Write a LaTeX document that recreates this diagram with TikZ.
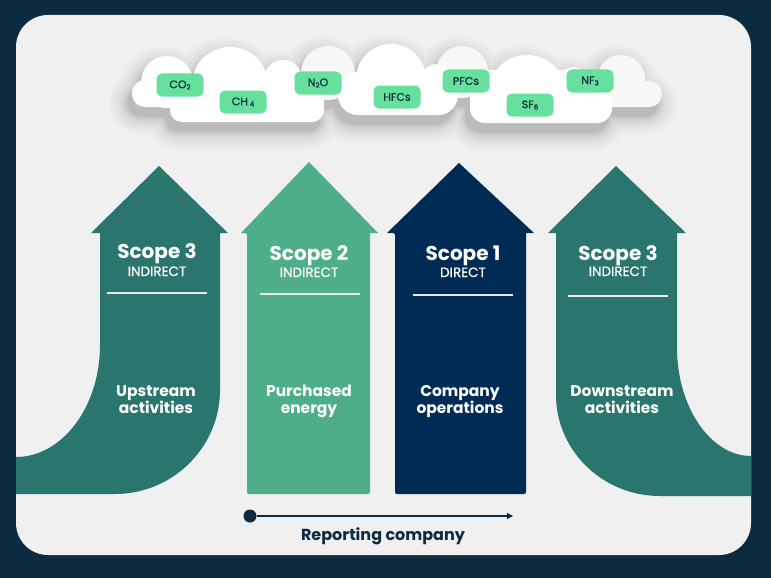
\documentclass[tikz,border=0pt]{standalone}
\usepackage{fontspec}
\setmainfont{Poppins}
\newfontfamily\popmed{Poppins}[FakeBold=0.5]
\usetikzlibrary{arrows.meta}
\definecolor{bgdark}{HTML}{0C2A40}
\definecolor{panel}{HTML}{F0F0F0}
\definecolor{tealc}{HTML}{2B756F}
\definecolor{greenc}{HTML}{4DAE89}
\definecolor{navyc}{HTML}{002B54}
\definecolor{chipgreen}{HTML}{66E09D}
\definecolor{ink}{HTML}{0D2B3E}
\definecolor{cloudback}{HTML}{F7F7F7}
\newcommand\chipsub[1]{\raisebox{-1.3pt}{\fontsize{7}{7}\selectfont #1}}
\newcommand\cloudback[1]{%
  \path[#1] (328,73) circle[radius=27pt];
  \path[#1] (462,72) circle[radius=26pt];
  \path[#1] (621,79) circle[radius=24pt];
  \path[#1,rounded corners=13pt] (597,81) rectangle (662,107);
}
\newcommand\cloudfront[1]{%
  \path[#1,rounded corners=13pt] (132,80) rectangle (180,107);
  \path[#1] (167,82) circle[radius=26pt];
  \path[#1] (230,84) ellipse[x radius=38pt,y radius=37pt];
  \path[#1] (283,79) circle[radius=19pt];
  \path[#1,rounded corners=12pt] (170,78) rectangle (324,122);
  \path[#1,rounded corners=20pt] (338,72) rectangle (458,115);
  \path[#1] (391,79) circle[radius=35pt];
  \path[#1] (437,80) circle[radius=16pt];
  \path[#1,rounded corners=15pt] (470,70) rectangle (612,123);
  \path[#1] (527,87) ellipse[x radius=36pt,y radius=32pt];
  \path[#1] (573,80) circle[radius=13pt];
}
\tikzset{
  every node/.style={inner sep=0pt, outer sep=0pt},
  head/.style={text=white, font=\bfseries\fontsize{20}{20}\selectfont, anchor=base},
  kind/.style={text=white, font=\popmed\fontsize{13.5}{13.5}\selectfont, anchor=base},
  body/.style={text=white, font=\bfseries\fontsize{15.5}{15.5}\selectfont, anchor=base},
  chip/.style={fill=chipgreen, rounded corners=6pt, minimum width=47pt, minimum height=23pt, text=ink, font=\popmed\fontsize{11}{11}\selectfont},
  divider/.style={draw=white!92!black, line width=1.3pt},
}
\begin{document}
\begin{tikzpicture}[x=1pt,y=-1pt]
\useasboundingbox (0,0) rectangle (771,578);
\fill[bgdark] (0,0) rectangle (771,578);
\fill[panel, rounded corners=32pt] (16,15) rectangle (751,555);
% cloud shadow
\foreach \w/\p in {36/2,30/4,24/6,19/8,14/10,10/13,6/16,3/19,1/22}{
  \cloudback{fill=black!\p!panel, draw=black!\p!panel, line width=\w pt, line join=round, shift={(-4,9)}}
  \cloudfront{fill=black!\p!panel, draw=black!\p!panel, line width=\w pt, line join=round, shift={(-4,9)}}
}
% clouds
\cloudback{fill=cloudback}
\cloudfront{fill=white}
% gas chips
\node[chip] (co2) at (180,85) {CO\chipsub{2}};
\node[chip] (ch4) at (243,102) {CH\,\chipsub{4}};
\node[chip] (n2o) at (318,83) {N\chipsub{2}O};
\node[chip] (hfcs) at (397,97) {HFCs};
\node[chip] (pfcs) at (466,81) {PFCs};
\node[chip] (sf6) at (530,105) {SF\chipsub{6}};
\node[chip] (nf3) at (590,81) {NF\chipsub{3}};
% arrows
\fill[tealc] (16,457) .. controls (62,457) and (100,407) .. (100,345) -- (100,233) -- (91,233) -- (159,166) -- (228,233) -- (220,233) -- (220,390) .. controls (220,447) and (173,494) .. (115,494) -- (16,494) -- cycle;
\fill[greenc, rounded corners=2pt] (247,494) -- (247,233) [sharp corners] -- (241,233) -- (309,162) -- (378,233) -- (370,233) [rounded corners=2pt] -- (370,494) -- cycle;
\fill[navyc, rounded corners=2pt] (395,494) -- (395,233) [sharp corners] -- (387,233) -- (459,163) -- (534,233) -- (526,233) [rounded corners=2pt] -- (526,494) -- cycle;
\fill[tealc] (751,456) .. controls (710,456) and (677,406) .. (677,348) -- (677,233) -- (686,233) -- (616,166) -- (548,233) -- (556,233) -- (556,395) .. controls (556,450) and (602,496) .. (660,496) -- (751,496) -- cycle;
% texts
\node[head] (s3a) at (157,258) {Scope 3};
\node[kind] (k3a) at (157,276) {INDIRECT};
\draw[divider] (107,293) -- (207,293);
\node[body] (u1) at (156,396) {Upstream};
\node[body] (u2) at (156,413) {activities};
\node[head] (s2) at (309,260) {Scope 2};
\node[kind] (k2) at (309,277) {INDIRECT};
\draw[divider] (260,294) -- (360,294);
\node[body] (p1) at (309,396) {Purchased};
\node[body] (p2) at (309,413) {energy};
\node[head] (s1) at (463,260) {Scope 1};
\node[kind] (k1) at (463,277) {DIRECT};
\draw[divider] (413,295) -- (513,295);
\node[body] (c1) at (460,396) {Company};
\node[body] (c2) at (460,413) {operations};
\node[head] (s3b) at (618,260) {Scope 3};
\node[kind] (k3b) at (618,276) {INDIRECT};
\draw[divider] (568,296) -- (668,296);
\node[body] (d1) at (622,396) {Downstream};
\node[body] (d2) at (622,413) {activities};
% reporting company
\node[circle, fill=bgdark, minimum size=13pt] (rcdot) at (250,516) {};
\coordinate (rcend) at (513,516);
\draw[bgdark, line width=1.3pt, -{Triangle[length=6pt,width=6pt]}] (rcdot) -- (rcend);
\node[text=bgdark, font=\bfseries\fontsize{16}{16}\selectfont, anchor=base] (rc) at (383,540) {Reporting company};
\end{tikzpicture}
\end{document}
